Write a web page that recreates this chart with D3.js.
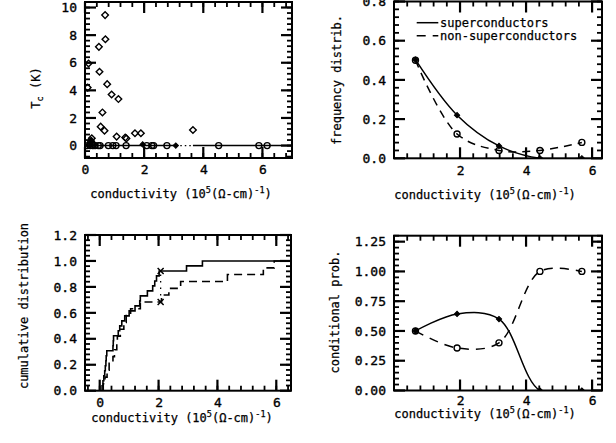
<!DOCTYPE html>
<html><head><meta charset="utf-8">
<script src="https://cdn.jsdelivr.net/npm/d3@7"></script>
<style>
body{margin:0;background:#fff}
svg{display:block;background:#fff}
text{font-family:"DejaVu Sans Mono",monospace;fill:#000}
</style></head><body>
<svg id="c" width="616" height="443"></svg>
<script>
// ---------- DATA ----------
// top-left: Tc vs conductivity
const scX  = [0.68,0.69,0.47,0.49,0.12,0.09,0.75,0.90,1.13,0.59,0.53,0.66,1.07,1.36,1.40,1.69,1.89,3.65,0.23,0.20,0.25,0.15,0.28];
const scTc = [9.45,7.70,7.15,5.35,5.95,4.20,4.45,3.70,3.37,2.40,1.37,1.08,0.65,0.58,0.52,0.89,0.89,1.13,0.53,0.32,0.18,0.08,0.05];
const scLowX  = [1.95,3.07,0.22,0.18];
const scLowTc = [0.08,0.00,0.40,0.15];
const nscX = [0.08,0.17,0.26,0.34,0.45,0.51,0.79,0.94,1.05,1.39,2.09,2.26,2.32,2.77,4.52,5.88,6.16];
const nscTc = nscX.map(() => 0);
const fitLineX = [0, 3.07, 3.65, 7];

// top-right / bottom-right: binned
const binCenters = [0.65, 1.91, 3.18, 4.42, 5.69];
const freqSuper  = [0.503, 0.220, 0.063, 0.000, 0.000];
const freqNon    = [0.500, 0.124, 0.040, 0.040, 0.081];
const condSuper  = [0.500, 0.643, 0.600, 0.000, 0.000];
const condNon    = [0.500, 0.357, 0.400, 1.000, 1.000];

// bottom-left: cumulative distributions
const cdfSuperX = [0.08,0.11,0.14,0.17,0.19,0.21,0.22,0.24,0.45,0.46,0.47,0.63,0.68,0.75,0.85,1.00,1.20,1.36,1.38,1.62,1.80,1.87,1.93,2.02,2.95,3.49];
const cdfSuperY = [0.038,0.077,0.115,0.154,0.192,0.231,0.269,0.308,0.346,0.385,0.423,0.462,0.500,0.538,0.577,0.615,0.654,0.692,0.731,0.769,0.808,0.846,0.885,0.923,0.962,1.000];
const cdfNonX = [0.12,0.18,0.25,0.32,0.45,0.50,0.58,0.60,0.70,0.82,0.90,1.05,1.38,2.10,2.35,2.75,4.34,5.56,5.93];
const cdfNonY = [0.053,0.105,0.158,0.211,0.263,0.316,0.368,0.421,0.474,0.526,0.579,0.632,0.684,0.737,0.789,0.842,0.895,0.947,1.000];
const ksX = 2.07, ksLow = 0.684, ksHigh = 0.923;

// tick labels
const tlXTicks = [0,2,4,6], tlYTicks = [0,2,4,6,8,10];
const trXTicks = [2,4,6],   trYTicks = [0,0.2,0.4,0.6,0.8];
const blXTicks = [0,2,4,6], blYTicks = [0,0.2,0.4,0.6,0.8,1.0,1.2];
const brXTicks = [2,4,6],   brYTicks = [0,0.25,0.5,0.75,1.0,1.25];
const legendLabels = ["superconductors", "non-superconductors"];

// ---------- DRAW ----------
const svg = d3.select("#c");
const defs = svg.append("defs");
let clipN = 0;

function panel(c){
  const x = d3.scaleLinear().domain(c.xd).range([c.l, c.r]);
  const y = d3.scaleLinear().domain(c.yd).range([c.b, c.t]);
  const g = svg.append("g");
  const id = "clip" + (clipN++);
  defs.append("clipPath").attr("id", id).append("rect")
    .attr("x", c.l).attr("y", c.t).attr("width", c.r - c.l).attr("height", c.b - c.t);
  const data = g.append("g").attr("clip-path", `url(#${id})`);

  function lab(gen, tv, fmt, tr, pad){
    const a = g.append("g").attr("transform", tr)
      .call(gen.tickValues(tv).tickSize(0).tickPadding(pad).tickFormat(fmt));
    a.select(".domain").remove();
    a.selectAll("line").remove();
    a.attr("font-family", null).attr("font-size", null);
    a.selectAll("text").attr("font-size", 13).attr("stroke", "#000").attr("stroke-width", 0.35);
    return a;
  }
  lab(d3.axisBottom(x), c.xMaj, c.xFmt, `translate(0,${c.b})`, c.xPad || 7);
  lab(d3.axisLeft(y), c.yMaj, c.yFmt, `translate(${c.l},0)`, 8);

  g.append("rect").attr("x", c.l).attr("y", c.t).attr("width", c.r - c.l).attr("height", c.b - c.t)
    .attr("fill", "none").attr("stroke", "#000").attr("stroke-width", 2);

  // inward tick marks on all four sides
  const xMin = d3.range(c.xMinor[0], c.xd[1] + 1e-9, c.xMinor[1]);
  const yMin = d3.range(c.yMinor[0], c.yd[1] + 1e-9, c.yMinor[1]);
  function marksFor(xv, yv, len){
    const m = [];
    xv.forEach(v => {
      const px = x(v);
      if (!(px >= c.l - 0.5 && px <= c.r + 0.5)) return;
      m.push([px, c.b, px, c.b - len]);
      m.push([px, c.t, px, c.t + len]);
    });
    yv.forEach(v => {
      const py = y(v);
      if (!(py >= c.t - 0.5 && py <= c.b + 0.5)) return;
      m.push([c.l, py, c.l + len, py]);
      m.push([c.r, py, c.r - len, py]);
    });
    return m;
  }
  const drawMarks = (m, w) => svg.selectAll(null).data(m).enter().append("line")
    .attr("x1", d => d[0]).attr("y1", d => d[1]).attr("x2", d => d[2]).attr("y2", d => d[3])
    .attr("stroke", "#000").attr("stroke-width", w);
  drawMarks(marksFor(xMin, yMin, 5), 1.8);
  drawMarks(marksFor(c.xMaj, c.yMaj, 11), 2.2);

  // x title
  const xtt = g.append("text").attr("x", c.xtx).attr("y", c.xty).attr("text-anchor", "middle").attr("font-size", 12)
    .attr("stroke", "#000").attr("stroke-width", 0.25);
  xtt.append("tspan").text("conductivity (10");
  xtt.append("tspan").attr("dy", -5).attr("font-size", 8.5).text("5");
  xtt.append("tspan").attr("dy", 5).text("(Ω-cm)");
  xtt.append("tspan").attr("dy", -5).attr("font-size", 8.5).text("-1");
  xtt.append("tspan").attr("dy", 5).text(")");
  // y title
  const ytt = g.append("text").attr("transform", `translate(${c.ytx},${c.yty}) rotate(-90)`)
    .attr("text-anchor", "middle").attr("font-size", 12).attr("stroke", "#000").attr("stroke-width", 0.25);
  c.ytitle(ytt);
  return {x, y, g, data};
}

const diamond = d3.symbol(d3.symbolSquare, 22);
const smallDiamond = d3.symbol(d3.symbolSquare, 14);

// ---- top-left ----
{
  const p = panel({l:85, r:292, t:2, b:158, xd:[0,7], yd:[-0.9,10.4],
    xMaj: tlXTicks, yMaj: tlYTicks, xMinor:[0.4,0.4], yMinor:[-0.8,0.4],
    xFmt: d3.format("d"), yFmt: d3.format("d"),
    xtx:181, xty:198, ytx:40, yty:88,
    ytitle: t => { t.append("tspan").text("T"); t.append("tspan").attr("dy",3).attr("font-size",8.5).text("c");
                   t.append("tspan").attr("dy",-3).text(" (K)"); }});
  const {x, y, data} = p;
  const line = d3.line().x(d => x(d[0])).y(d => y(d[1]));
  data.append("path").attr("d", line([[fitLineX[0],0],[fitLineX[1],0]])).attr("stroke","#000").attr("stroke-width",1.5).attr("fill","none");
  data.append("path").attr("d", line([[fitLineX[1],0],[fitLineX[2],0]])).attr("stroke","#000").attr("stroke-width",1.3).attr("stroke-dasharray","1.5,3").attr("fill","none");
  data.append("path").attr("d", line([[fitLineX[2],0],[fitLineX[3],0]])).attr("stroke","#000").attr("stroke-width",1.5).attr("fill","none");
  data.selectAll(".nsc").data(nscX).enter().append("circle")
    .attr("cx", (d) => x(d)).attr("cy", (d, i) => y(nscTc[i])).attr("r", 3)
    .attr("fill", "none").attr("stroke", "#000").attr("stroke-width", 1.4);
  data.selectAll(".sc").data(scX).enter().append("path")
    .attr("d", diamond).attr("transform", (d, i) => `translate(${x(d)},${y(scTc[i])}) rotate(45)`)
    .attr("fill", "none").attr("stroke", "#000").attr("stroke-width", 1.4);
  data.selectAll(".scl").data(scLowX).enter().append("path")
    .attr("d", smallDiamond).attr("transform", (d, i) => `translate(${x(d)},${y(scLowTc[i])}) rotate(45)`)
    .attr("fill", "#000").attr("stroke", "#000").attr("stroke-width", 1);
}

const smoothCurve = d3.curveCatmullRom.alpha(0.5);

// ---- top-right ----
{
  const p = panel({l:394, r:602, t:1.5, b:158.3, xd:[0,6.3], yd:[0,0.8],
    xMaj: trXTicks, yMaj: trYTicks, xMinor:[0.4,0.4], yMinor:[0.04,0.04],
    xFmt: d3.format("d"), yFmt: d3.format(".1f"),
    xtx:485, xty:198.5, ytx:341, yty:80,
    ytitle: t => t.text("frequency distrib.")});
  const {x, y, g, data} = p;
  const line = d3.line().x((d, i) => x(binCenters[i])).y(d => y(d)).curve(smoothCurve);
  data.append("path").attr("d", line(freqSuper)).attr("fill","none").attr("stroke","#000").attr("stroke-width",1.5);
  data.append("path").attr("d", line(freqNon)).attr("fill","none").attr("stroke","#000").attr("stroke-width",1.5).attr("stroke-dasharray","8,6");
  data.selectAll(".cn").data(freqNon).enter().append("circle")
    .attr("cx", (d, i) => x(binCenters[i])).attr("cy", d => y(d)).attr("r", 3)
    .attr("fill", "none").attr("stroke", "#000").attr("stroke-width", 1.4);
  data.selectAll(".cs").data(freqSuper).enter().append("path")
    .attr("d", smallDiamond).attr("transform", (d, i) => `translate(${x(binCenters[i])},${y(d)}) rotate(45)`)
    .attr("fill", "#000").attr("stroke","#000");
  // legend
  g.append("line").attr("x1",416.7).attr("x2",438.3).attr("y1",22.7).attr("y2",22.7).attr("stroke","#000").attr("stroke-width",1.5);
  g.append("line").attr("x1",416.7).attr("x2",438.3).attr("y1",35.7).attr("y2",35.7).attr("stroke","#000").attr("stroke-width",1.5).attr("stroke-dasharray","9,7");
  g.append("text").attr("x",440).attr("y",26.5).attr("font-size",12).attr("stroke","#000").attr("stroke-width",0.25).text(legendLabels[0]);
  g.append("text").attr("x",440).attr("y",40).attr("font-size",12).attr("stroke","#000").attr("stroke-width",0.25).text(legendLabels[1]);
}

// ---- bottom-left ----
{
  const p = panel({l:85, r:291, t:235, b:390.7, xd:[-0.5,6.5], yd:[0,1.2],
    xMaj: blXTicks, yMaj: blYTicks, xMinor:[-0.4,0.4], yMinor:[0.04,0.04],
    xFmt: d3.format("d"), yFmt: d3.format(".1f"),
    xtx:182, xty:422, ytx:28, yty:306,
    ytitle: t => t.text("cumulative distribution")});
  const {x, y, data} = p;
  const step = d3.line().x(d => x(d[0])).y(d => y(d[1])).curve(d3.curveStepAfter);
  const sPts = [[cdfSuperX[0],0]].concat(cdfSuperX.map((v,i)=>[v, cdfSuperY[i]]), [[6.5,1]]);
  const nPts = [[cdfNonX[0],0]].concat(cdfNonX.map((v,i)=>[v, cdfNonY[i]]), [[6.5,1]]);
  data.append("path").attr("d", step(sPts)).attr("fill","none").attr("stroke","#000").attr("stroke-width",1.6);
  data.append("path").attr("d", step(nPts)).attr("fill","none").attr("stroke","#000").attr("stroke-width",1.6).attr("stroke-dasharray","8,5");
  data.append("line").attr("x1",x(ksX)).attr("x2",x(ksX)).attr("y1",y(ksLow)).attr("y2",y(ksHigh))
    .attr("stroke","#000").attr("stroke-width",1.3).attr("stroke-dasharray","1.5,5");
  [ksLow, ksHigh].forEach(v => {
    const cx = x(ksX), cy = y(v);
    data.append("path").attr("d", `M${cx-3},${cy-3}L${cx+3},${cy+3}M${cx-3},${cy+3}L${cx+3},${cy-3}`)
      .attr("stroke","#000").attr("stroke-width",1.5);
  });
}

// ---- bottom-right ----
{
  const p = panel({l:394, r:602, t:235.7, b:390.5, xd:[0,6.3], yd:[0,1.3],
    xMaj: brXTicks, yMaj: brYTicks, xMinor:[0.4,0.4], yMinor:[0.05,0.05],
    xFmt: d3.format("d"), yFmt: d3.format(".2f"), xPad: 5,
    xtx:485, xty:418, ytx:339, yty:312,
    ytitle: t => t.text("conditional prob.")});
  const {x, y, data} = p;
  const line = d3.line().x((d, i) => x(binCenters[i])).y(d => y(d)).curve(smoothCurve);
  data.append("path").attr("d", line(condSuper)).attr("fill","none").attr("stroke","#000").attr("stroke-width",1.5);
  data.append("path").attr("d", line(condNon)).attr("fill","none").attr("stroke","#000").attr("stroke-width",1.5).attr("stroke-dasharray","9,7");
  data.selectAll(".cn").data(condNon).enter().append("circle")
    .attr("cx", (d, i) => x(binCenters[i])).attr("cy", d => y(d)).attr("r", 3)
    .attr("fill", "none").attr("stroke", "#000").attr("stroke-width", 1.4);
  data.selectAll(".cs").data(condSuper).enter().append("path")
    .attr("d", smallDiamond).attr("transform", (d, i) => `translate(${x(binCenters[i])},${y(d)}) rotate(45)`)
    .attr("fill", "#000").attr("stroke","#000");
}
</script>
</body></html>
